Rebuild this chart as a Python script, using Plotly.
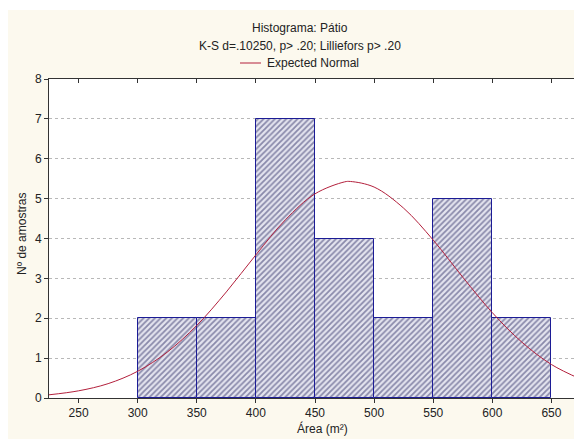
import plotly.graph_objects as go

# Histogram data
bin_starts = [300, 350, 400, 450, 500, 550, 600]
bin_width = 50
counts = [2, 2, 7, 4, 2, 5, 2]

# Expected normal curve
curve_x = [225, 250, 275, 300, 325, 350, 375, 400, 425, 450, 475, 480, 500,
           525, 550, 575, 600, 625, 650, 675]
curve_y = [0.08, 0.18, 0.36, 0.67, 1.15, 1.82, 2.66, 3.59, 4.47, 5.12, 5.42, 5.43,
           5.29, 4.76, 3.96, 3.03, 2.14, 1.40, 0.84, 0.47]

x_ticks = [250, 300, 350, 400, 450, 500, 550, 600, 650]
y_ticks = [0, 1, 2, 3, 4, 5, 6, 7, 8]

title_1 = "Histograma: Pátio"
title_2 = "K-S d=.10250, p> .20; Lilliefors p> .20"
legend_label = "Expected Normal"
x_title = "Área (m²)"
y_title = "Nº de amostras"

curve_color = "#b3203c"
centers = [s + bin_width / 2 for s in bin_starts]

# page has an 8px default body margin at top/left
OFF = 8
PAGE_W, PAGE_H = 582, 439
W, H = PAGE_W - OFF, PAGE_H - OFF
# plot area in page pixels: left 49, right 581, top 79, bottom 398
ML, MR, MT, MB = 49 - OFF, PAGE_W - 581, 79 - OFF, PAGE_H - 398
PW, PH = W - ML - MR, H - MT - MB


def px_x(px):  # page pixel -> paper x
    return (px - OFF - ML) / PW


def px_y(py):  # page pixel -> paper y
    return (H - MB - (py - OFF)) / PH


fig = go.Figure()
fig.add_trace(go.Bar(
    x=centers, y=counts, width=[bin_width] * len(counts),
    marker=dict(color="white",
                line=dict(color="#1c1c96", width=1),
                pattern=dict(shape="/", fgcolor="#2e2e66", bgcolor="#e4e4ef",
                             size=4, solidity=0.45)),
    showlegend=False, hoverinfo="skip"))
fig.add_trace(go.Scatter(
    x=curve_x, y=curve_y, mode="lines",
    line=dict(color=curve_color, width=1, shape="spline"),
    name=legend_label, showlegend=False, hoverinfo="skip"))
# invisible trace for the mirrored (top/right) axes
fig.add_trace(go.Scatter(x=[225, 675], y=[0, 8], xaxis="x2", yaxis="y2",
                         mode="markers", marker=dict(opacity=0), showlegend=False,
                         hoverinfo="skip"))

font = dict(family="Liberation Sans, Arial, sans-serif", size=12, color="#222")
axis_col = "#333"

fig.update_layout(
    width=W, height=H,
    margin=dict(l=ML, r=MR, t=MT, b=MB),
    paper_bgcolor="#fcf9ee", plot_bgcolor="white",
    font=font, bargap=0, showlegend=False,
    xaxis=dict(range=[225, 675], tickvals=x_ticks, ticks="outside", ticklen=4,
               tickcolor=axis_col, showline=True, linecolor=axis_col, linewidth=1,
               showgrid=False, zeroline=False, tickfont=font, automargin=False),
    yaxis=dict(range=[0, 8], tickvals=y_ticks, ticks="outside", ticklen=4,
               tickcolor=axis_col, showline=True, linecolor=axis_col, linewidth=1,
               showgrid=True, gridcolor="#b8b8b8", griddash="dot", gridwidth=1,
               zeroline=False, tickfont=font, automargin=False),
    xaxis2=dict(range=[225, 675], tickvals=x_ticks, overlaying="x", side="top",
                ticks="inside", ticklen=4, tickcolor=axis_col, showticklabels=False,
                showline=True, linecolor=axis_col, linewidth=1, showgrid=False,
                zeroline=False, automargin=False),
    yaxis2=dict(range=[0, 8], tickvals=y_ticks, overlaying="y", side="right",
                ticks="inside", ticklen=4, tickcolor=axis_col, showticklabels=False,
                showline=True, linecolor=axis_col, linewidth=1, showgrid=False,
                zeroline=False, automargin=False),
    shapes=[
        # thin white strip along the top edge
        dict(type="rect", xref="paper", yref="paper", x0=px_x(OFF), x1=px_x(PAGE_W),
             y0=px_y(10), y1=px_y(OFF), fillcolor="white", line=dict(width=0)),
        # legend sample line
        dict(type="line", xref="paper", yref="paper", x0=px_x(240), x1=px_x(261),
             y0=px_y(63), y1=px_y(63), line=dict(color=curve_color, width=1)),
    ],
    annotations=[
        dict(text=title_1, x=px_x(300), y=px_y(28), xref="paper", yref="paper",
             xanchor="center", yanchor="middle", showarrow=False, font=font),
        dict(text=title_2, x=px_x(300), y=px_y(46), xref="paper", yref="paper",
             xanchor="center", yanchor="middle", showarrow=False, font=font),
        dict(text=legend_label, x=px_x(265), y=px_y(63), xref="paper", yref="paper",
             xanchor="left", yanchor="middle", showarrow=False, font=font),
        dict(text=x_title, x=px_x(322), y=px_y(428), xref="paper", yref="paper",
             xanchor="center", yanchor="middle", showarrow=False, font=font),
        dict(text=y_title, x=px_x(22), y=px_y(234), xref="paper", yref="paper",
             xanchor="center", yanchor="middle", showarrow=False, font=font,
             textangle=-90),
    ],
)

fig.write_html("out.html")
